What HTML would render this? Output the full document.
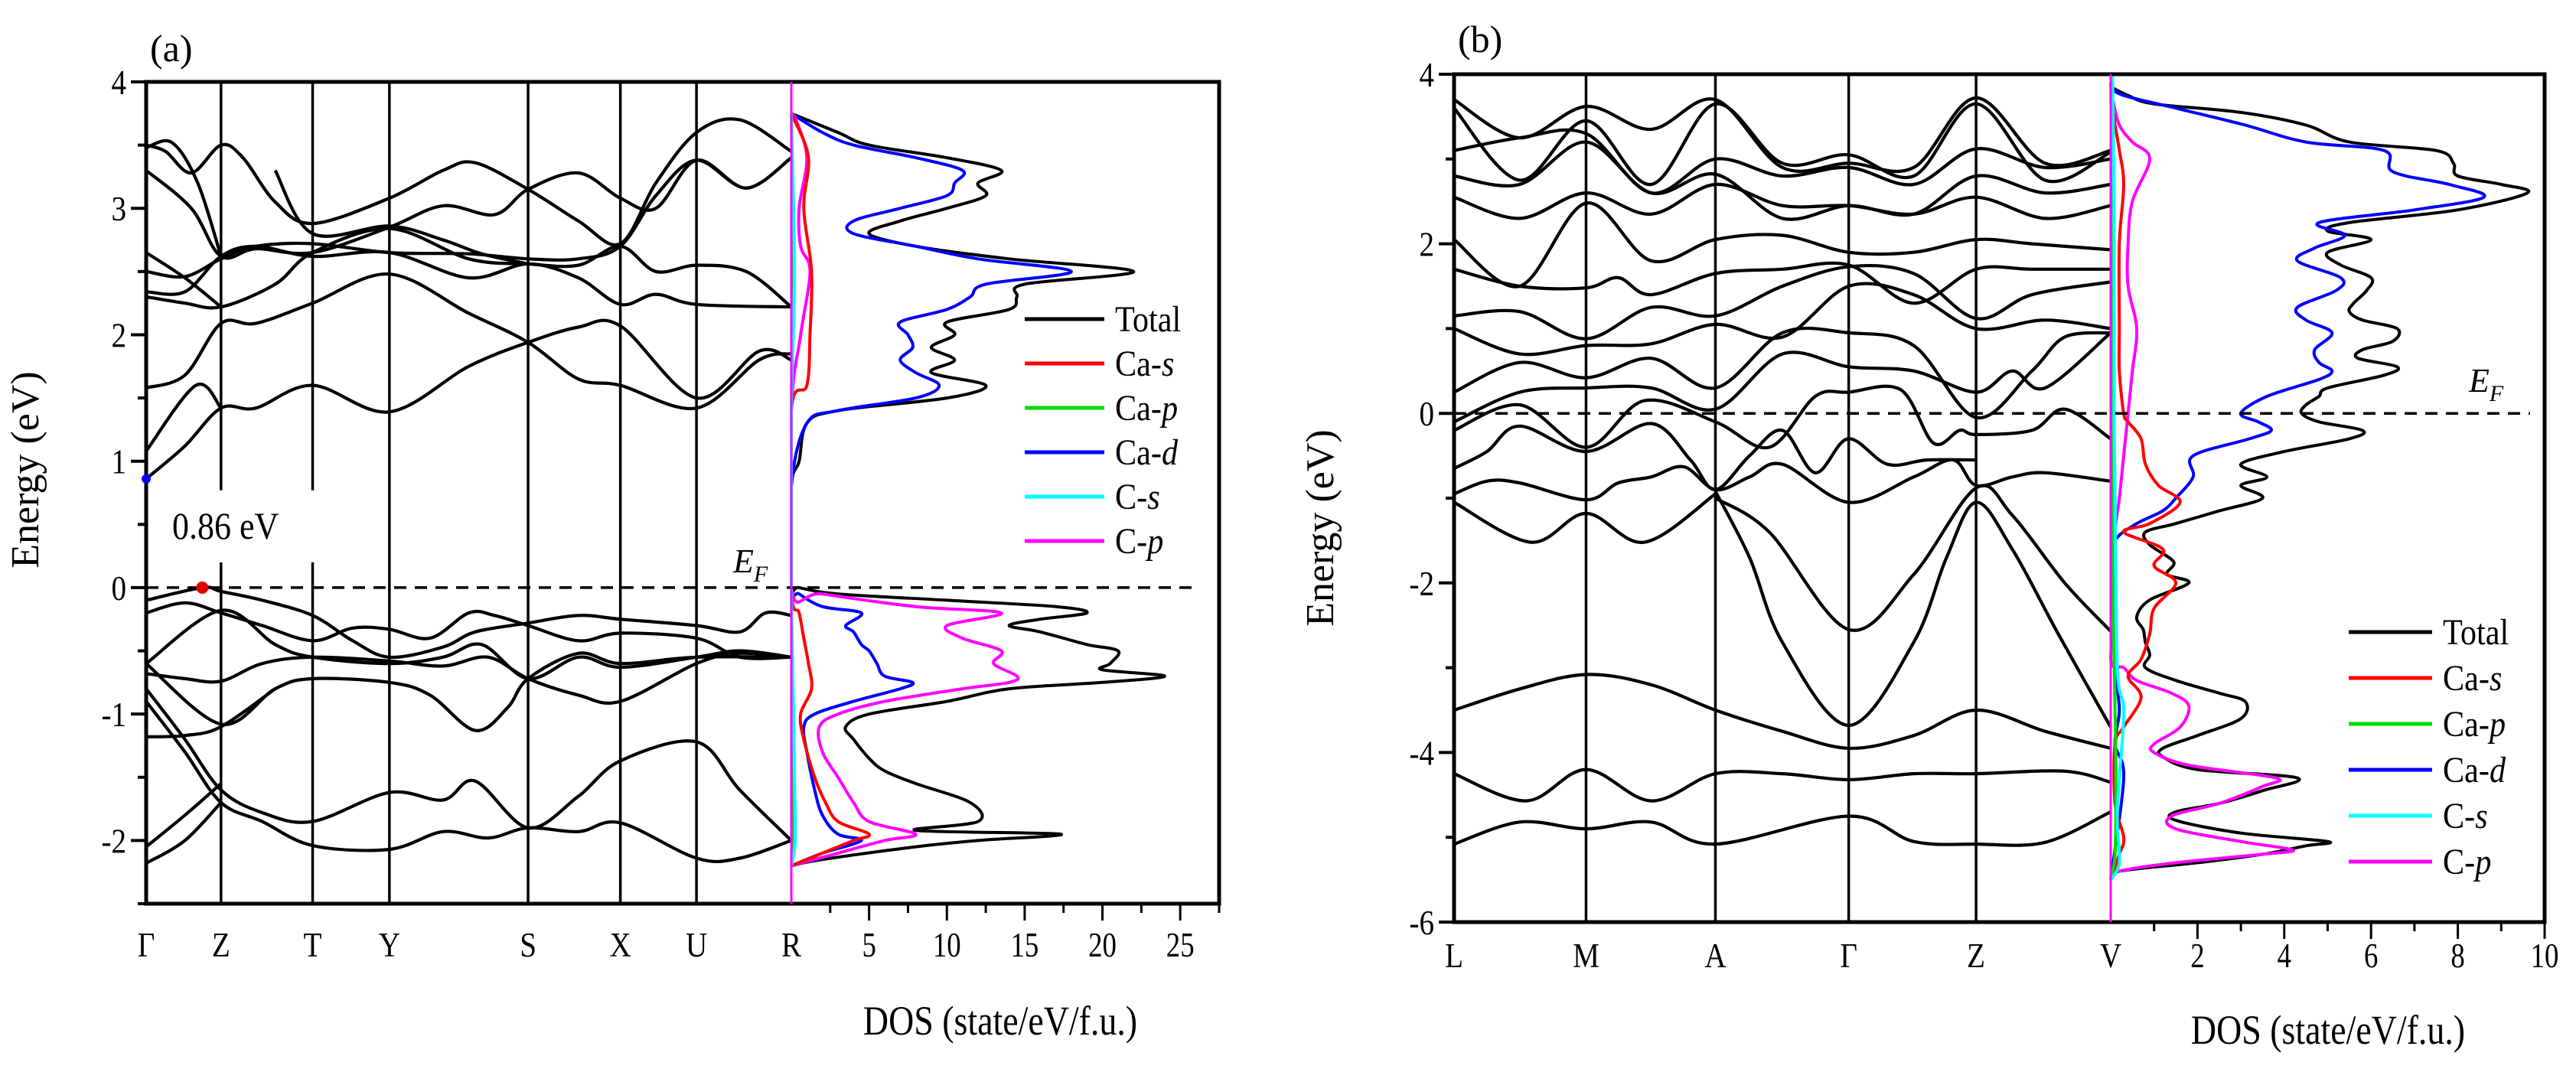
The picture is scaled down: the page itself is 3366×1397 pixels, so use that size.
<!DOCTYPE html>
<html><head><meta charset="utf-8"><style>
html,body{margin:0;padding:0;background:#fff;}
svg{display:block;font-family:"Liberation Serif",serif;}
</style></head><body>
<svg id="fig" width="3366" height="1397" viewBox="0 0 3366 1397" xmlns="http://www.w3.org/2000/svg">
<g id="pa"></g>
<g id="pb"></g>
</svg>
<script>
// ---------- Panel (a) data ----------
const kLabelsA = ["Γ","Z","T","Y","S","X","U","R"];
const kTicksA = [0,0.116,0.258,0.377,0.592,0.735,0.853,1.0];
const bandsA = [
 [[0,0.86],[0.06,1.12],[0.116,1.42],[0.17,1.42],[0.258,1.6],[0.377,1.39],[0.5,1.75],[0.592,1.94],[0.67,2.06],[0.735,2.07],[0.853,1.5],[0.95,1.87],[1,1.8]],
 [[0,1.58],[0.06,1.68],[0.116,2.09],[0.17,2.09],[0.258,2.25],[0.377,2.48],[0.5,2.17],[0.592,1.94],[0.67,1.65],[0.735,1.6],[0.853,1.42],[0.95,1.8],[1,1.85]],
 [[0,1.08],[0.077,1.6],[0.116,1.42]],
 [[0,2.3],[0.06,2.25],[0.116,2.22],[0.2,2.4],[0.258,2.65],[0.377,2.84],[0.5,2.6],[0.592,2.56],[0.67,2.55],[0.735,2.7],[0.79,2.5],[0.853,2.55],[0.93,2.5],[1,2.22]],
 [[0,2.34],[0.06,2.34],[0.116,2.62],[0.17,2.7],[0.258,2.62],[0.377,2.65],[0.5,2.45],[0.592,2.56],[0.67,2.45],[0.735,2.24],[0.79,2.32],[0.853,2.24],[1,2.22]],
 [[0,2.5],[0.06,2.46],[0.116,2.6],[0.17,2.7],[0.258,2.72],[0.377,2.65],[0.5,2.64],[0.592,2.6],[0.67,2.6],[0.735,2.7],[0.79,3.1],[0.853,3.38],[0.93,3.16],[1,3.4]],
 [[0,2.65],[0.06,2.45],[0.116,2.22]],
 [[0,3.5],[0.03,3.45],[0.07,3.28],[0.116,3.5],[0.15,3.4],[0.2,3.05],[0.258,2.88],[0.377,3.08],[0.46,3.3],[0.51,3.36],[0.592,3.15],[0.67,2.9],[0.735,2.72],[0.79,3.2],[0.853,3.6],[0.92,3.7],[1,3.45]],
 [[0,3.3],[0.07,3.0],[0.116,2.62],[0.17,2.68],[0.258,2.65],[0.377,2.85],[0.46,3.02],[0.54,2.95],[0.592,3.15],[0.67,3.28],[0.735,3.08],[0.79,3.0],[0.853,3.38],[0.93,3.16],[1,3.4]],
 [[0,3.48],[0.04,3.52],[0.08,3.2],[0.116,2.62]],
 [[0.2,3.3],[0.258,2.8],[0.377,2.86],[0.46,2.75],[0.52,2.64],[0.592,2.56]],
 [[0,-0.1],[0.087,0.0],[0.116,-0.03],[0.18,-0.1],[0.258,-0.22],[0.32,-0.42],[0.377,-0.55],[0.46,-0.47],[0.51,-0.35],[0.592,-0.28],[0.67,-0.22],[0.735,-0.25],[0.853,-0.3],[0.92,-0.35],[0.96,-0.2],[1,-0.22]],
 [[0,-0.2],[0.06,-0.12],[0.116,-0.2],[0.18,-0.3],[0.258,-0.42],[0.32,-0.32],[0.377,-0.33],[0.44,-0.4],[0.5,-0.2],[0.54,-0.22],[0.592,-0.3],[0.67,-0.42],[0.735,-0.36],[0.853,-0.4],[0.92,-0.55],[1,-0.55]],
 [[0,-0.6],[0.116,-0.18],[0.2,-0.45],[0.258,-0.55],[0.377,-0.6],[0.46,-0.55],[0.52,-0.45],[0.592,-0.72],[0.67,-0.55],[0.735,-0.63],[0.853,-0.55],[0.92,-0.5],[1,-0.55]],
 [[0,-0.68],[0.06,-0.72],[0.116,-0.74],[0.18,-0.6],[0.258,-0.55],[0.377,-0.58],[0.46,-0.62],[0.53,-0.55],[0.592,-0.72],[0.67,-0.85],[0.735,-0.9],[0.853,-0.6],[0.92,-0.52],[1,-0.55]],
 [[0,-0.6],[0.116,-1.08],[0.2,-0.8],[0.258,-0.72],[0.377,-0.75],[0.44,-0.85],[0.51,-1.13],[0.56,-0.95],[0.592,-0.72],[0.67,-0.52],[0.735,-0.6],[0.853,-0.55],[1,-0.55]],
 [[0,-1.18],[0.06,-1.17],[0.116,-1.1],[0.2,-0.8]],
 [[0,-0.8],[0.06,-1.2],[0.116,-1.6],[0.18,-1.78],[0.258,-1.85],[0.377,-1.62],[0.46,-1.68],[0.51,-1.53],[0.592,-1.9],[0.67,-1.65],[0.735,-1.37],[0.853,-1.22],[0.92,-1.6],[1,-2.0]],
 [[0,-0.9],[0.06,-1.3],[0.116,-1.7],[0.18,-1.85],[0.258,-2.04],[0.377,-2.07],[0.46,-1.93],[0.53,-1.98],[0.592,-1.9],[0.67,-1.93],[0.735,-1.86],[0.853,-2.14],[0.92,-2.14],[1,-2.0]],
 [[0,-2.05],[0.06,-1.8],[0.116,-1.55]],
 [[0,-2.18],[0.06,-2.0],[0.116,-1.7]]
];
const dosTotalA = [[-2.2,0],[-2.15,2],[-2.05,8],[-2.0,12],[-1.95,17.3],[-1.92,8],[-1.85,12],[-1.7,11.5],[-1.55,8],[-1.45,6],[-1.35,5],[-1.2,4],[-1.1,3.5],[-1.0,5],[-0.9,10],[-0.8,14],[-0.75,20],[-0.7,24],[-0.65,20],[-0.6,20.5],[-0.5,21],[-0.45,19],[-0.35,16],[-0.3,14],[-0.25,16],[-0.2,19],[-0.15,17],[-0.1,10],[-0.05,3],[0,0.5],[0.02,0],[0.8,0],[1.0,0.5],[1.3,1],[1.4,3],[1.5,10],[1.6,12.5],[1.7,9],[1.8,10.5],[1.9,9],[2.0,10.5],[2.1,10],[2.2,14],[2.3,14.5],[2.4,15],[2.5,22],[2.6,14],[2.7,8],[2.8,5],[2.9,7],[3.0,10],[3.1,12.5],[3.2,12],[3.3,13.5],[3.4,10],[3.5,5],[3.6,3],[3.75,0]];
const dosCadA = [[-2.2,0],[-2.1,2],[-2.0,4.5],[-1.95,3],[-1.8,2],[-1.6,1.5],[-1.3,1],[-1.1,0.8],[-1.0,1.5],[-0.9,4],[-0.8,7],[-0.75,7.8],[-0.7,6],[-0.6,5.5],[-0.5,5],[-0.45,4.5],[-0.35,4],[-0.3,3.5],[-0.2,4.5],[-0.15,2],[-0.05,0.5],[0,0],[0.8,0],[1.3,1],[1.4,3],[1.5,8],[1.6,9.5],[1.7,8],[1.8,7],[1.9,7.8],[2.0,7.5],[2.1,7],[2.2,10],[2.3,11.5],[2.4,12.5],[2.5,18],[2.6,12],[2.7,8],[2.8,4],[2.9,4],[3.0,7],[3.1,10],[3.2,10.5],[3.3,11],[3.4,8],[3.5,4],[3.6,2],[3.75,0]];
const dosCpA = [[-2.2,0],[-2.1,3],[-2.0,6],[-1.95,8],[-1.85,5],[-1.7,4],[-1.5,3],[-1.3,2],[-1.1,1.8],[-1.0,3],[-0.9,6],[-0.8,11],[-0.75,14],[-0.7,14.5],[-0.6,13],[-0.5,13.5],[-0.4,11],[-0.3,10],[-0.2,13.5],[-0.15,8],[-0.05,2],[0,0],[1.4,0],[2.0,0.6],[2.5,1.2],[2.7,0.6],[3.0,0.5],[3.4,1],[3.7,0.3],[3.75,0]];
const dosCasA = [[-2.2,0],[-2.1,2],[-2.0,4],[-1.95,5],[-1.85,3],[-1.7,2.2],[-1.5,1.5],[-1.2,0.8],[-1.0,0.6],[-0.8,1.3],[-0.6,1.1],[-0.4,0.8],[-0.2,0.5],[0,0],[1.4,0],[1.6,1],[2.0,1.2],[2.5,1.3],[3.0,0.8],[3.4,1.1],[3.7,0.2],[3.75,0]];
const dosCapA = [[-2.2,0],[-2.0,0.15],[-1.0,0.1],[0,0],[1.4,0],[2.5,0.15],[3.75,0]];
const dosCsA = [[-2.2,0],[-2.0,0.25],[-1.5,0.2],[-1.0,0.15],[0,0],[1.4,0],[2.5,0.2],[3.75,0]];
const dosTicksA = [5,10,15,20,25];
const eTicksA = [4,3,2,1,0,-1,-2];

// ---------- Panel (b) data ----------
const kLabelsB = ["L","M","A","Γ","Z","V"];
const kTicksB = [0,0.201,0.398,0.601,0.795,1.0];
const bandsB = [
 [[0,-5.08],[0.1,-4.82],[0.201,-4.9],[0.3,-4.82],[0.398,-5.08],[0.601,-4.75],[0.7,-5.05],[0.795,-5.08],[0.9,-5.06],[1,-4.7]],
 [[0,-4.25],[0.11,-4.57],[0.201,-4.2],[0.3,-4.57],[0.398,-4.25],[0.5,-4.25],[0.601,-4.32],[0.7,-4.25],[0.795,-4.25],[0.93,-4.22],[1,-4.35]],
 [[0,-3.5],[0.1,-3.25],[0.201,-3.08],[0.3,-3.2],[0.398,-3.5],[0.5,-3.75],[0.601,-3.95],[0.7,-3.8],[0.795,-3.5],[0.9,-3.75],[1,-3.95]],
 [[0.398,-0.92],[0.45,-1.7],[0.5,-2.7],[0.601,-3.68],[0.7,-2.7],[0.75,-1.7],[0.795,-1.05],[0.85,-1.6],[0.92,-2.6],[1,-3.7]],
 [[0.398,-1.0],[0.48,-1.4],[0.601,-2.55],[0.7,-1.9],[0.795,-0.88],[0.85,-1.2],[0.93,-2.0],[1,-2.57]],
 [[0,-1.05],[0.117,-1.52],[0.201,-1.18],[0.29,-1.52],[0.398,-0.95]],
 [[0,-0.95],[0.05,-0.8],[0.1,-0.82],[0.201,-1.02],[0.25,-0.82],[0.3,-0.75],[0.35,-0.63],[0.398,-0.9],[0.45,-0.75],[0.5,-0.6],[0.601,-1.05],[0.7,-0.75],[0.76,-0.55],[0.795,-0.85],[0.85,-0.75],[0.9,-0.7],[1,-0.8]],
 [[0,-0.65],[0.05,-0.45],[0.1,-0.15],[0.201,-0.45],[0.3,-0.12],[0.36,-0.55],[0.398,-0.9],[0.45,-0.5],[0.5,-0.2],[0.55,-0.7],[0.6,-0.3],[0.66,-0.6],[0.72,-0.55],[0.795,-0.55]],
 [[0,-0.2],[0.1,0.1],[0.201,-0.4],[0.29,0.15],[0.398,-0.1],[0.48,-0.4],[0.55,0.2],[0.601,0.25],[0.68,0.28],[0.73,-0.35],[0.77,-0.2],[0.795,-0.25],[0.88,-0.2],[0.93,0.05],[1,-0.3]],
 [[0,-0.1],[0.1,0.25],[0.201,0.3],[0.3,0.3],[0.398,0.05],[0.5,0.7],[0.601,0.55],[0.7,0.5],[0.795,0.25],[0.85,0.5],[0.9,0.3],[1,0.95]],
 [[0,0.25],[0.1,0.6],[0.201,0.42],[0.3,0.65],[0.398,0.3],[0.5,0.95],[0.601,0.95],[0.7,0.8],[0.795,-0.05],[0.88,0.5],[0.93,0.9],[1,0.95]],
 [[0,1.0],[0.1,0.7],[0.201,0.8],[0.3,0.82],[0.398,1.05],[0.5,0.9],[0.601,1.5],[0.7,1.4],[0.795,1.0],[0.9,1.1],[1,1.0]],
 [[0,1.15],[0.1,1.2],[0.201,0.88],[0.3,1.25],[0.398,1.15],[0.5,1.5],[0.601,1.73],[0.7,1.65],[0.795,1.12],[0.88,1.4],[1,1.55]],
 [[0,1.7],[0.1,1.5],[0.201,1.48],[0.25,1.6],[0.3,1.4],[0.398,1.65],[0.5,1.7],[0.601,1.75],[0.7,1.3],[0.795,1.7],[0.88,1.7],[1,1.7]],
 [[0,2.05],[0.1,1.5],[0.201,2.48],[0.3,1.8],[0.398,2.05],[0.5,2.1],[0.601,1.9],[0.7,1.9],[0.795,2.05],[0.88,2.0],[1,1.93]],
 [[0,2.55],[0.1,2.3],[0.201,2.6],[0.3,2.35],[0.398,2.7],[0.5,2.45],[0.601,2.45],[0.7,2.35],[0.795,2.55],[0.9,2.3],[1,2.45]],
 [[0,2.8],[0.1,2.7],[0.201,3.2],[0.3,2.6],[0.398,2.82],[0.5,2.3],[0.601,2.45],[0.7,2.35],[0.795,2.8],[0.9,2.6],[1,2.7]],
 [[0,3.1],[0.1,3.25],[0.201,3.3],[0.3,2.6],[0.398,3.0],[0.5,2.8],[0.601,2.9],[0.7,2.7],[0.795,3.12],[0.9,2.9],[1,3.0]],
 [[0,3.6],[0.1,2.75],[0.201,3.45],[0.3,2.7],[0.398,3.65],[0.5,2.95],[0.601,3.05],[0.7,2.8],[0.795,3.65],[0.9,2.75],[1,3.08]],
 [[0,3.7],[0.1,3.25],[0.201,3.62],[0.3,3.35],[0.398,3.7],[0.5,2.9],[0.601,2.95],[0.7,2.9],[0.795,3.72],[0.9,2.95],[1,3.1]]
];
const dosTotalB = [[-5.5,0],[-5.4,0.2],[-5.3,2],[-5.2,3.5],[-5.1,4.5],[-5.05,5],[-4.95,3],[-4.8,1.5],[-4.7,1.5],[-4.6,2.5],[-4.45,3.5],[-4.3,4.3],[-4.2,2],[-4.05,1.2],[-3.95,1.2],[-3.8,2],[-3.6,3],[-3.4,3.1],[-3.3,2.5],[-3.15,1.5],[-3.0,0.8],[-2.85,0.9],[-2.7,0.8],[-2.55,0.75],[-2.4,0.6],[-2.2,0.9],[-2.0,1.8],[-1.9,1.3],[-1.75,1.45],[-1.55,0.9],[-1.4,0.8],[-1.3,1.5],[-1.15,2.5],[-1.0,3.5],[-0.85,3.0],[-0.75,3.6],[-0.6,3.0],[-0.45,4.0],[-0.3,5.5],[-0.2,5.8],[-0.1,4.8],[0,4.4],[0.1,4.5],[0.2,4.8],[0.3,5.0],[0.45,6.3],[0.55,6.6],[0.65,5.7],[0.75,5.8],[0.85,6.5],[1.0,6.6],[1.1,5.8],[1.2,5.5],[1.3,5.6],[1.45,5.9],[1.6,6.0],[1.75,5.3],[1.9,5.0],[2.05,6.0],[2.15,5.0],[2.25,5.5],[2.4,8],[2.6,9.6],[2.7,9],[2.8,8],[2.95,7.9],[3.1,7.5],[3.2,5.5],[3.4,4.5],[3.55,3],[3.65,1],[3.75,0.4],[3.85,0]];
const dosCadB = [[-5.5,0],[-4.3,0.3],[-3.9,0.1],[-3.5,0.2],[-3.0,0.1],[-2.3,0.1],[-1.8,0.1],[-1.5,0.1],[-1.3,0.6],[-1.15,1.2],[-1.0,1.5],[-0.75,1.9],[-0.5,1.9],[-0.3,3.2],[-0.2,3.7],[-0.1,3.4],[0,3.0],[0.2,3.6],[0.4,4.8],[0.5,5.1],[0.6,4.8],[0.75,4.7],[0.95,5.1],[1.1,4.5],[1.25,4.3],[1.45,5.2],[1.6,5.3],[1.8,4.3],[1.95,4.7],[2.1,5.4],[2.25,4.8],[2.4,7],[2.55,8.6],[2.7,7.8],[2.85,6.5],[3.1,6.3],[3.2,4.5],[3.4,3.1],[3.6,1.5],[3.75,0.3],[3.85,0]];
const dosCpB = [[-5.5,0],[-5.4,0.2],[-5.3,1.5],[-5.2,3.5],[-5.15,4.2],[-5.05,3],[-4.9,1.5],[-4.75,1.4],[-4.6,2.5],[-4.4,3.5],[-4.3,3.8],[-4.15,1.8],[-4.0,1.0],[-3.9,1.0],[-3.7,1.6],[-3.45,1.8],[-3.3,1.4],[-3.15,0.6],[-3.0,0.3],[-2.9,0],[-2.0,0.1],[-1.4,0.1],[-1.0,0.2],[-0.5,0.3],[0,0.4],[0.5,0.5],[1.0,0.6],[1.5,0.4],[2.0,0.4],[2.5,0.5],[3.0,0.9],[3.2,0.5],[3.4,0.2],[3.7,0.05],[3.9,0]];
const dosCasB = [[-5.5,0],[-5.2,0.2],[-5.0,0.3],[-4.6,0.1],[-3.9,0.1],[-3.7,0.3],[-3.35,0.7],[-3.1,0.4],[-2.9,0.7],[-2.6,0.9],[-2.3,1.0],[-2.0,1.5],[-1.8,1.0],[-1.6,1.2],[-1.4,0.3],[-1.3,0.9],[-1.05,1.6],[-0.85,1.1],[-0.6,0.8],[-0.3,0.7],[-0.1,0.4],[0,0.3],[0.5,0.2],[1.0,0.2],[2.0,0.2],[2.7,0.3],[3.1,0.2],[3.4,0.1],[3.6,0.05],[3.9,0]];
const dosCapB = [[-5.5,0],[-5.2,0.1],[-4.3,0.12],[-3.5,0.1],[-2.0,0.05],[0,0.05],[2,0.05],[3.9,0]];
const dosCsB = [[-5.5,0],[-5.3,0.2],[-4.8,0.15],[-4.3,0.2],[-3.5,0.3],[-3.0,0.15],[-1.0,0.1],[0,0.08],[2,0.08],[3.8,0.05],[3.95,0]];
const dosTicksB = [2,4,6,8,10];
const eTicksB = [4,2,0,-2,-4,-6];

const legendNames = [["Total",""],["Ca-","s"],["Ca-","p"],["Ca-","d"],["C-","s"],["C-","p"]];
const legendColors = ["#000","#ff0000","#00dd00","#0000ff","#00ffff","#ff00ff"];

// ---------- drawing ----------
const NS = "http://www.w3.org/2000/svg";
function mk(parent, tag, attrs){
  const e = document.createElementNS(NS, tag);
  for (const k in attrs) e.setAttribute(k, attrs[k]);
  parent.appendChild(e);
  return e;
}
function smooth(pts, xmin){
  if (pts.length < 2) return "";
  const cl = v => (xmin!==undefined && v<xmin) ? xmin : v;
  let d = "M"+pts[0][0].toFixed(1)+","+pts[0][1].toFixed(1);
  for (let i=0;i<pts.length-1;i++){
    const p0 = pts[i-1]||pts[i], p1=pts[i], p2=pts[i+1], p3=pts[i+2]||p2;
    const c1x=cl(p1[0]+(p2[0]-p0[0])/6), c1y=p1[1]+(p2[1]-p0[1])/6;
    const c2x=cl(p2[0]-(p3[0]-p1[0])/6), c2y=p2[1]-(p3[1]-p1[1])/6;
    d += " C"+c1x.toFixed(1)+","+c1y.toFixed(1)+" "+c2x.toFixed(1)+","+c2y.toFixed(1)+" "+p2[0].toFixed(1)+","+p2[1].toFixed(1);
  }
  return d;
}

function drawPanel(g, L, kLabels, kTicks, bands, dosSeries, dosTicks, eTicks){
  const X = k => L.bx0 + k*(L.bx1-L.bx0);
  const Y = e => L.y0 + (L.emax-e)/(L.emax-L.emin)*(L.y1-L.y0);
  const D = v => L.bx1 + v/L.dmax*(L.dx1-L.bx1);

  kTicks.forEach((k,i)=>{
    if (i===0 || i===kTicks.length-1) return;
    const gap = L.gapLines && L.gapLines.includes(i);
    if (gap){
      let l = mk(g,"line",{x1:X(k),x2:X(k),y1:L.y0,y2:Y(L.gapTop),stroke:"#000","stroke-width":3.5});
      
      
      l = mk(g,"line",{x1:X(k),x2:X(k),y1:Y(L.gapBot),y2:L.y1,stroke:"#000","stroke-width":3.5});
      
      
    } else {
      const l = mk(g,"line",{x1:X(k),x2:X(k),y1:L.y0,y2:L.y1,stroke:"#000","stroke-width":3.5});
      
      
    }
  });
  bands.forEach((b,i)=>{
    const p = mk(g,"path",{d:smooth(b.map(q=>[X(q[0]),Y(q[1])])),fill:"none",stroke:"#000","stroke-width":4.2,"stroke-linejoin":"round"});
    
    
  });
  dosSeries.forEach(s=>{
    const p = mk(g,"path",{d:smooth(s.data.map(q=>[D(q[1]),Y(q[0])]), D(0)),fill:"none",stroke:s.color,"stroke-width":4,"stroke-linejoin":"round"});
    
    
  });
  const ef = mk(g,"line",{x1:L.bx0,x2:L.efEnd,y1:Y(0),y2:Y(0),stroke:"#000","stroke-width":3.5,"stroke-dasharray":"16,11"});
  
  
  const fr = mk(g,"rect",{x:L.bx0,y:L.y0,width:L.dx1-L.bx0,height:L.y1-L.y0,fill:"none",stroke:"#000","stroke-width":5});
  
  
  const sep = mk(g,"line",{x1:L.bx1,x2:L.bx1,y1:L.y0,y2:L.y1,stroke:"#ff00ff","stroke-width":3});
  
  
  const step = eTicks[0]-eTicks[1];
  for (let e=L.emin; e<=L.emax+1e-9; e+=step/2){
    const major = eTicks.some(t=>Math.abs(t-e)<1e-6);
    const t = mk(g,"line",{x1:L.bx0-(major?20:11),x2:L.bx0,y1:Y(e),y2:Y(e),stroke:"#000","stroke-width":4});
    
    
  }
  eTicks.forEach(e=>{
    const t = mk(g,"text",{x:0,y:0,"text-anchor":"end","font-size":46,transform:"translate("+(L.bx0-26)+","+(Y(e)+16)+") scale(0.85,1)"});
    t.textContent = e;
    
    
  });
  kTicks.forEach((k,i)=>{
    const t = mk(g,"text",{x:0,y:0,"text-anchor":"middle","font-size":46,transform:"translate("+X(k)+","+L.labY+") scale(0.85,1)"});
    t.textContent = kLabels[i];
    
    
  });
  const dstep = dosTicks[1]-dosTicks[0];
  for (let v=dstep/2; v<=L.dmax+1e-9; v+=dstep/2){
    const major = dosTicks.some(t=>Math.abs(t-v)<1e-6);
    const t = mk(g,"line",{x1:D(v),x2:D(v),y1:L.y1,y2:L.y1+(major?22:12),stroke:"#000","stroke-width":3});
    
    
  }
  dosTicks.forEach(v=>{
    const t = mk(g,"text",{x:0,y:0,"text-anchor":"middle","font-size":46,transform:"translate("+D(v)+","+L.labY+") scale(0.8,1)"});
    t.textContent = v;
    
    
  });
  const yt = mk(g,"text",{x:0,y:0,"text-anchor":"middle","font-size":52,transform:"translate("+L.ytX+","+L.ytY+") rotate(-90)"});
  yt.textContent = "Energy (eV)";
  
  
  const xt = mk(g,"text",{x:0,y:0,"text-anchor":"middle","font-size":54,transform:"translate("+L.xtX+","+L.xtY+") scale(0.85,1)"});
  xt.textContent = "DOS (state/eV/f.u.)";
  
  
  const pl = mk(g,"text",{x:L.plX,y:L.plY,"font-size":50});
  pl.textContent = L.panelLabel;
  
  
  const efl = mk(g,"text",{x:L.efX,y:L.efY,"font-size":44,"font-style":"italic"});
  
  
  const t1 = mk(efl,"tspan",{}); t1.textContent="E";
  const t2 = mk(efl,"tspan",{"font-size":30,dy:12}); t2.textContent="F";
  const lg = mk(g,"g",{});
  
  
  legendNames.forEach((n,i)=>{
    const y = L.lgY + i*L.lgDy;
    const ln = mk(lg,"line",{x1:L.lgX,x2:L.lgX+L.lgW,y1:y,y2:y,stroke:legendColors[i],"stroke-width":5});
    
    
    const tx = mk(lg,"text",{x:0,y:0,"font-size":48,transform:"translate("+(L.lgX+L.lgW+14)+","+(y+16)+") scale(0.88,1)"});
    
    
    const a = mk(tx,"tspan",{}); a.textContent=n[0];
    if (n[1]){ const b = mk(tx,"tspan",{"font-style":"italic"}); b.textContent=n[1]; }
  });
  return {X,Y};
}

const LA = {bx0:191,bx1:1034,dx1:1593,y0:107,y1:1181,emin:-2.5,emax:4,dmax:27.5,efEnd:1565,
  labY:1250,ytX:50,ytY:614,xtX:1307,xtY:1352,plX:196,plY:80,panelLabel:"(a)",efX:958,efY:748,
  lgX:1339,lgW:104,lgY:417,lgDy:58,gapLines:[1,2],gapTop:0.77,gapBot:0.2};
const LB = {bx0:1900,bx1:2758,dx1:3325,y0:97,y1:1205,emin:-6,emax:4,dmax:10,efEnd:3306,
  labY:1264,ytX:1742,ytY:690,xtX:3042,xtY:1364,plX:1905,plY:68,panelLabel:"(b)",efX:3226,efY:512,
  lgX:3069,lgW:109,lgY:826,lgDy:60};

const ga = document.getElementById("pa");
const sa = drawPanel(ga, LA, kLabelsA, kTicksA, bandsA, [
  {name:"total",color:"#000",data:dosTotalA},
  {name:"ca-d",color:"#0000ff",data:dosCadA},
  {name:"c-p",color:"#ff00ff",data:dosCpA},
  {name:"ca-s",color:"#ff0000",data:dosCasA},
  {name:"ca-p",color:"#00dd00",data:dosCapA},
  {name:"c-s",color:"#00ffff",data:dosCsA}], dosTicksA, eTicksA);
const cbm = mk(ga,"circle",{cx:sa.X(0),cy:sa.Y(0.86),r:6,fill:"#0000ff"});


const vbm = mk(ga,"circle",{cx:sa.X(0.087),cy:sa.Y(0),r:8,fill:"#dd0000"});


const gapT = mk(ga,"text",{x:0,y:0,"font-size":50,transform:"translate(225,704) scale(0.88,1)"});
gapT.textContent = "0.86 eV";



const gb = document.getElementById("pb");
drawPanel(gb, LB, kLabelsB, kTicksB, bandsB, [
  {name:"total",color:"#000",data:dosTotalB},
  {name:"ca-d",color:"#0000ff",data:dosCadB},
  {name:"c-p",color:"#ff00ff",data:dosCpB},
  {name:"ca-s",color:"#ff0000",data:dosCasB},
  {name:"ca-p",color:"#00dd00",data:dosCapB},
  {name:"c-s",color:"#00ffff",data:dosCsB}], dosTicksB, eTicksB);
</script>
</body></html>
